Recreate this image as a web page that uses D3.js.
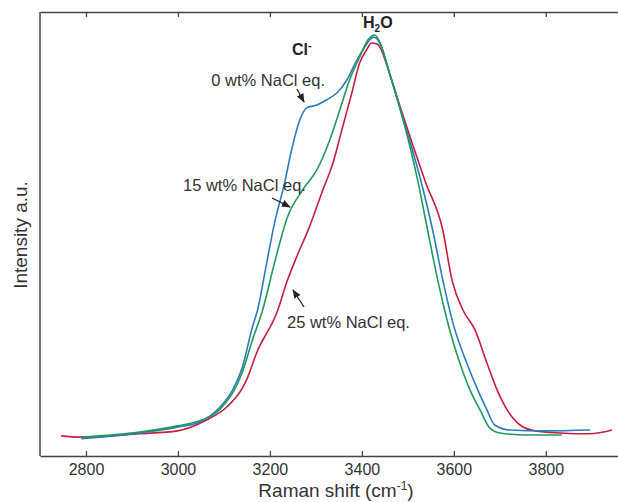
<!DOCTYPE html>
<html>
<head>
<meta charset="utf-8">
<script src="https://cdn.jsdelivr.net/npm/d3@7"></script>
<style>
  html, body { margin: 0; padding: 0; background: #fff; }
  svg { display: block; font-family: Arial, "Liberation Sans", sans-serif; }
</style>
</head>
<body>
<svg id="chart" width="618" height="502"></svg>
<script>
// ---- data (Raman shift cm-1, normalized intensity) ----
const xTicks = [2800, 3000, 3200, 3400, 3600, 3800];

const shift0 = [2790, 2916, 2999, 3047, 3090, 3119, 3140, 3162, 3173, 3193, 3210, 3232, 3247, 3265, 3280, 3302, 3323, 3345, 3367, 3389, 3406, 3417, 3426, 3439, 3460, 3482, 3530, 3554, 3576, 3600, 3628, 3652, 3672, 3689, 3722, 3800, 3896];
const int0   = [0.041, 0.055, 0.069, 0.081, 0.115, 0.158, 0.212, 0.308, 0.348, 0.461, 0.556, 0.652, 0.730, 0.802, 0.831, 0.838, 0.850, 0.866, 0.897, 0.945, 0.976, 0.993, 1.000, 0.986, 0.914, 0.833, 0.650, 0.539, 0.420, 0.310, 0.222, 0.158, 0.110, 0.074, 0.062, 0.060, 0.062];

const shift15 = [2790, 2916, 2999, 3047, 3090, 3140, 3162, 3184, 3210, 3238, 3271, 3302, 3330, 3352, 3373, 3395, 3413, 3428, 3439, 3460, 3482, 3522, 3543, 3565, 3591, 3613, 3635, 3657, 3678, 3700, 3760, 3835];
const int15   = [0.045, 0.057, 0.072, 0.084, 0.110, 0.200, 0.277, 0.348, 0.461, 0.570, 0.635, 0.683, 0.754, 0.826, 0.897, 0.952, 0.993, 1.005, 0.988, 0.914, 0.833, 0.655, 0.539, 0.420, 0.301, 0.222, 0.158, 0.110, 0.067, 0.055, 0.050, 0.050];

const shift25 = [2746, 2786, 2916, 2999, 3062, 3106, 3149, 3171, 3217, 3236, 3258, 3286, 3315, 3337, 3358, 3378, 3395, 3410, 3421, 3434, 3460, 3482, 3538, 3576, 3596, 3620, 3646, 3672, 3694, 3716, 3744, 3777, 3831, 3896, 3944];
const int25   = [0.048, 0.045, 0.053, 0.060, 0.086, 0.117, 0.181, 0.246, 0.348, 0.413, 0.475, 0.547, 0.635, 0.699, 0.785, 0.866, 0.938, 0.969, 0.986, 0.983, 0.914, 0.838, 0.655, 0.539, 0.420, 0.348, 0.301, 0.222, 0.158, 0.110, 0.074, 0.060, 0.055, 0.053, 0.062];

const seriesNames = ["0 wt% NaCl eq.", "15 wt% NaCl eq.", "25 wt% NaCl eq."];
const seriesColors = ["#2c7bbf", "#1f9a5c", "#c2203f"];

// ---- layout ----
const svg = d3.select("#chart");
const pLeft = 40, pRight = 618, pTop = 12, pBottom = 456;
const x = d3.scaleLinear().domain([2700, 3957]).range([pLeft, pRight]);
const y = d3.scaleLinear().domain([0, 1.06]).range([pBottom, pTop]);

const series = [
  {name: seriesNames[0], color: seriesColors[0], pts: shift0.map((s, i) => [s, int0[i]])},
  {name: seriesNames[1], color: seriesColors[1], pts: shift15.map((s, i) => [s, int15[i]])},
  {name: seriesNames[2], color: seriesColors[2], pts: shift25.map((s, i) => [s, int25[i]])}
];

const line = d3.line().x(d => x(d[0])).y(d => y(d[1])).curve(d3.curveMonotoneX);

[2, 0, 1].forEach(k => {
  svg.append("path")
    .attr("d", line(series[k].pts))
    .attr("fill", "none")
    .attr("stroke", series[k].color)
    .attr("stroke-width", 1.6)
    .attr("stroke-linejoin", "round");
});

// ---- axes ----
const axisColor = "#444";
const gB = svg.append("g").attr("transform", `translate(0,${pBottom})`)
  .call(d3.axisBottom(x).tickValues(xTicks).tickFormat(d3.format("d"))
    .tickSize(-5).tickSizeOuter(0).tickPadding(8));
gB.selectAll("text").attr("font-size", 16).attr("fill", "#333").attr("font-family", "Arial, 'Liberation Sans', sans-serif");
const gT = svg.append("g").attr("transform", `translate(0,${pTop})`)
  .call(d3.axisTop(x).tickValues(xTicks).tickSize(-5).tickSizeOuter(0).tickFormat(""));
[gB, gT].forEach(g => {
  g.select(".domain").attr("stroke", axisColor).attr("stroke-width", 1.5);
  g.selectAll(".tick line").attr("stroke", axisColor).attr("stroke-width", 1.3);
});
svg.append("line").attr("x1", pLeft).attr("x2", pLeft).attr("y1", pTop).attr("y2", pBottom)
  .attr("stroke", axisColor).attr("stroke-width", 1.5);

// axis titles
const xt = svg.append("text").attr("x", 336).attr("y", 497).attr("text-anchor", "middle")
  .attr("font-size", 19).attr("fill", "#333");
xt.append("tspan").text("Raman shift (cm");
xt.append("tspan").text("-1").attr("font-size", 12).attr("dy", -7);
xt.append("tspan").text(")").attr("dy", 7);

svg.append("text").attr("transform", "translate(27,235) rotate(-90)")
  .attr("text-anchor", "middle").attr("font-size", 19).attr("fill", "#333")
  .text("Intensity a.u.");

// ---- annotations ----
svg.append("defs").append("marker").attr("id", "ah")
  .attr("viewBox", "0 0 10 10").attr("refX", 9).attr("refY", 5)
  .attr("markerWidth", 7).attr("markerHeight", 7).attr("orient", "auto")
  .append("path").attr("d", "M0,1 L10,5 L0,9 Z").attr("fill", "#222");

const labels = [
  {text: seriesNames[0], tx: 325, ty: 86, anchor: "end", a: [297, 89, 304, 102]},
  {text: seriesNames[1], tx: 183, ty: 191, anchor: "start", a: [272, 198, 290, 207]},
  {text: seriesNames[2], tx: 287, ty: 328, anchor: "start", a: [304, 307, 293, 290]}
];
labels.forEach(l => {
  svg.append("text").attr("x", l.tx).attr("y", l.ty).attr("text-anchor", l.anchor)
    .attr("font-size", 16.5).attr("fill", "#333").text(l.text);
  svg.append("line").attr("x1", l.a[0]).attr("y1", l.a[1]).attr("x2", l.a[2]).attr("y2", l.a[3])
    .attr("stroke", "#222").attr("stroke-width", 1.3).attr("marker-end", "url(#ah)");
});

const cl = svg.append("text").attr("x", 292).attr("y", 55).attr("font-size", 16)
  .attr("font-weight", "bold").attr("fill", "#222");
cl.append("tspan").text("Cl");
cl.append("tspan").text("-").attr("font-size", 11).attr("dy", -6);

const h2o = svg.append("text").attr("x", 363).attr("y", 28).attr("font-size", 16)
  .attr("font-weight", "bold").attr("fill", "#222");
h2o.append("tspan").text("H");
h2o.append("tspan").text("2").attr("font-size", 10).attr("dy", 4);
h2o.append("tspan").text("O").attr("dy", -4);
</script>
</body>
</html>
